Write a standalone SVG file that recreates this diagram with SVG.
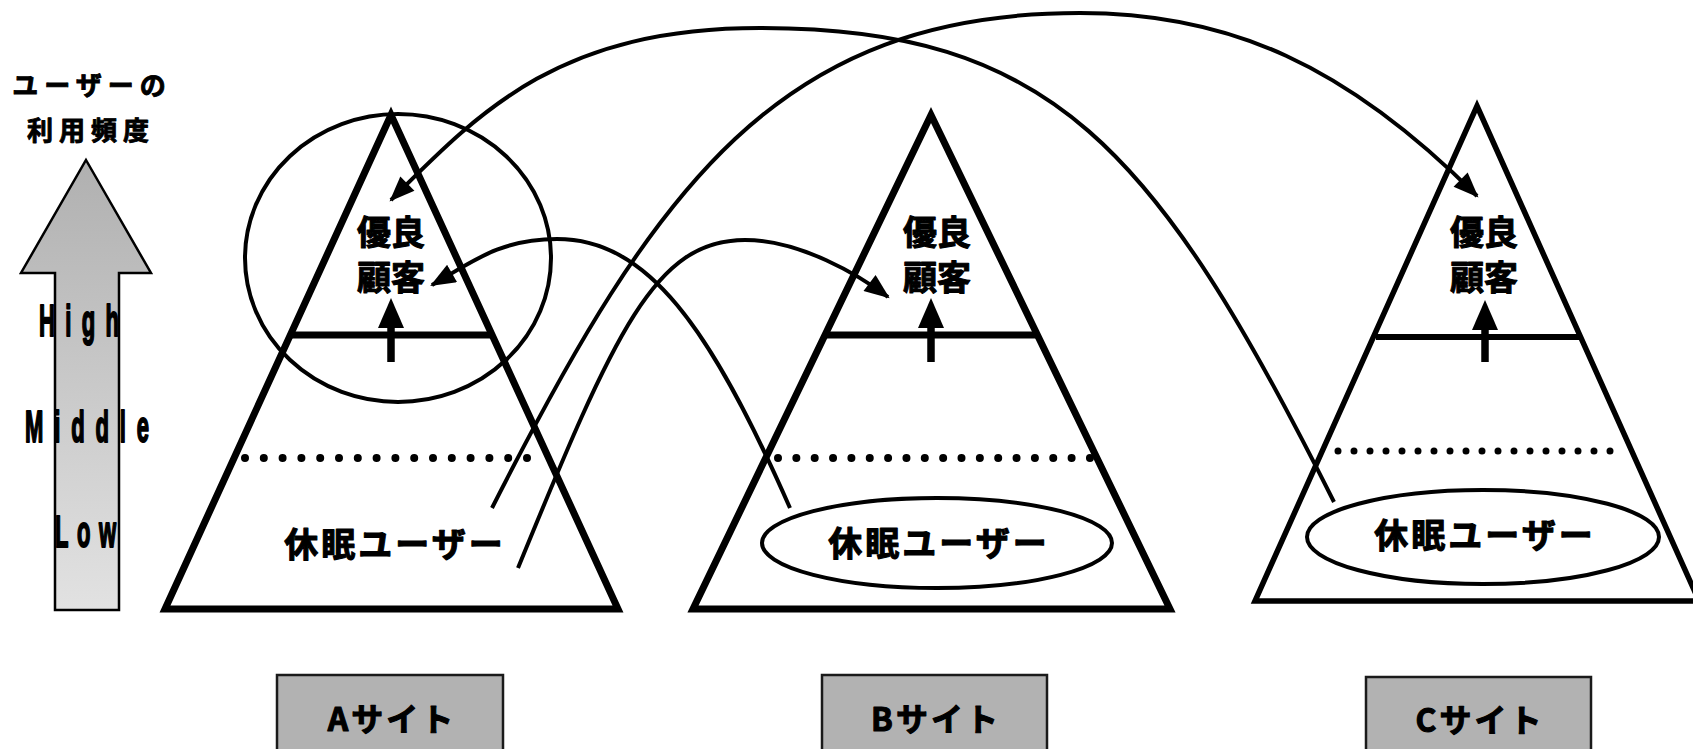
<svg xmlns="http://www.w3.org/2000/svg" width="1693" height="749" viewBox="0 0 1693 749">
<style>
.jp{font-family:'Noto Sans CJK JP','Noto Sans CJK SC',sans-serif;font-weight:700;fill:#000;stroke:#000;stroke-width:1.1;stroke-linejoin:round;text-anchor:middle}
.lat{font-family:'Liberation Sans',Arial,sans-serif;font-weight:700;fill:#000;stroke:#000;stroke-width:2;stroke-linejoin:round}
.tri{fill:none;stroke:#000;stroke-width:7;stroke-linejoin:miter;stroke-miterlimit:10}
.band{stroke:#000;stroke-width:7}
.dots{stroke:#000;stroke-width:8;stroke-linecap:round}
.ring{fill:none;stroke:#000;stroke-width:4}
.up{stroke:#000;stroke-width:7.5}
.site{fill:#b2b2b2;stroke:#1a1a1a;stroke-width:2.5}
.conn{fill:none;stroke:#000;stroke-width:4}
</style>
<defs>
<linearGradient id="g" x1="0" y1="0" x2="0" y2="1">
<stop offset="0" stop-color="#b0b0b0"/>
<stop offset="1" stop-color="#e2e2e2"/>
</linearGradient>
<marker id="ah" markerUnits="userSpaceOnUse" markerWidth="26" markerHeight="20" viewBox="0 0 24 19" refX="22" refY="9.5" orient="auto">
<path d="M0,0 L24,9.5 L0,19 z" fill="#000"/>
</marker>
</defs>

<g id="legend">
<text class="jp" x="92" y="95" font-size="26" letter-spacing="6" style="stroke-width:0.9">ユーザーの</text>
<text class="jp" x="91" y="140" font-size="26" letter-spacing="6" style="stroke-width:0.9">利用頻度</text>
<polygon points="86,160 151,273 119,273 119,610 55,610 55,273 21,273" fill="url(#g)" stroke="#000" stroke-width="2.5"/>
<text class="lat" transform="translate(39,336) scale(0.5,1)" x="0" y="0" font-size="44" textLength="160" lengthAdjust="spacing">High</text>
<text class="lat" transform="translate(25,442) scale(0.5,1)" x="0" y="0" font-size="44" textLength="248" lengthAdjust="spacing">Middle</text>
<text class="lat" transform="translate(55,547) scale(0.5,1)" x="0" y="0" font-size="44" textLength="122" lengthAdjust="spacing">Low</text>
</g>

<g id="siteA">
<polygon class="tri" points="391,115 618,609 165,609"/>
<line class="band" x1="291" y1="335" x2="491" y2="335"/>
<line class="dots" x1="245" y1="458" x2="527" y2="458" stroke-dasharray="0 18.8"/>
<line class="up" x1="391" y1="362" x2="391" y2="326"/>
<polygon points="391,298 404,328 378,328" fill="#000"/>
<text class="jp" x="391" y="245" font-size="34">優良</text>
<text class="jp" x="391" y="290" font-size="34">顧客</text>
<text class="jp" x="395" y="557" font-size="34" letter-spacing="3">休眠ユーザー</text>
<ellipse class="ring" cx="398" cy="258" rx="153" ry="144"/>
</g>

<g id="siteB">
<polygon class="tri" points="931,115 1170,609 693,609"/>
<line class="band" x1="827" y1="335" x2="1036" y2="335"/>
<line class="dots" x1="778" y1="458" x2="1090" y2="458" stroke-dasharray="0 18.35"/>
<line class="up" x1="931" y1="362" x2="931" y2="326"/>
<polygon points="931,298 944,328 918,328" fill="#000"/>
<text class="jp" x="937" y="245" font-size="34">優良</text>
<text class="jp" x="937" y="290" font-size="34">顧客</text>
<ellipse class="ring" cx="937" cy="543" rx="175" ry="45"/>
<text class="jp" x="939" y="556" font-size="34" letter-spacing="3">休眠ユーザー</text>
</g>

<g id="siteC">
<polygon class="tri" style="stroke-width:5.5" points="1477,106 1699,601 1255,601"/>
<line class="band" style="stroke-width:6" x1="1376" y1="337" x2="1580" y2="337"/>
<line class="dots" style="stroke-width:7" x1="1338" y1="451" x2="1626" y2="451" stroke-dasharray="0 16"/>
<line class="up" x1="1485" y1="362" x2="1485" y2="328"/>
<polygon points="1485,300 1498,330 1472,330" fill="#000"/>
<text class="jp" x="1484" y="245" font-size="34">優良</text>
<text class="jp" x="1484" y="290" font-size="34">顧客</text>
<ellipse class="ring" cx="1483" cy="537" rx="176" ry="47"/>
<text class="jp" x="1485" y="548" font-size="34" letter-spacing="3">休眠ユーザー</text>
</g>

<g id="labelA">
<rect class="site" x="277" y="675" width="226" height="90"/>
<text class="jp" x="392" y="731" font-size="32" letter-spacing="3">Aサイト</text>
</g>
<g id="labelB">
<rect class="site" x="822" y="675" width="225" height="90"/>
<text class="jp" x="936" y="731" font-size="32" letter-spacing="3">Bサイト</text>
</g>
<g id="labelC">
<rect class="site" x="1366" y="677" width="225" height="90"/>
<text class="jp" x="1480" y="732" font-size="32" letter-spacing="3">Cサイト</text>
</g>

<g id="connectors">
<path class="conn" marker-end="url(#ah)" d="M790,508 C710,326 647,239 557,239 C500,239 472,262 432,285"/>
<path class="conn" marker-end="url(#ah)" d="M518,568 C615,331 655,240 745,240 C800,240 859,275 888,297"/>
<path class="conn" marker-end="url(#ah)" d="M492,508 C656,184 780,13 1080,13 C1230,13 1347,66 1477,196"/>
<path class="conn" marker-end="url(#ah)" d="M1334,502 C1155,145 1050,28 760,28 C560,28 481,110 391,200"/>
</g>
</svg>
